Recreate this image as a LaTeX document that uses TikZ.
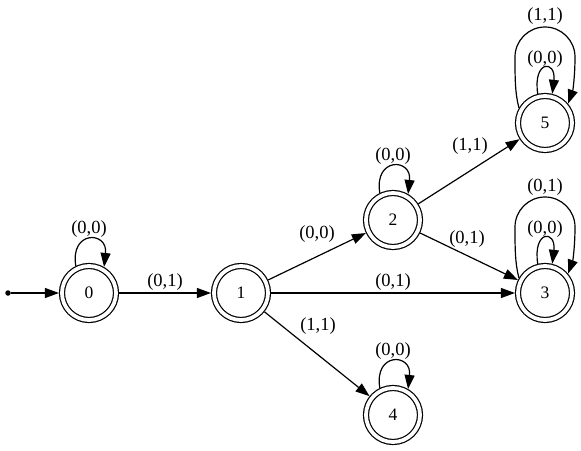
\documentclass[tikz,border=0pt]{standalone}
\usepackage{fontspec}
\setmainfont{Liberation Serif}
\usetikzlibrary{arrows.meta,calc}
\begin{document}
\begin{tikzpicture}[x=1pt,y=-1pt,
  state/.style={circle, draw, line width=1.2pt, double, double distance=3.8pt,
    minimum size=54pt, inner sep=0pt, outer sep=3.1pt,
    font=\fontsize{17.5}{17.5}\selectfont},
  lbl/.style={inner sep=0pt, font=\fontsize{18.5}{18.5}\selectfont},
  edge/.style={line width=1.2pt, -{Triangle[length=14pt,width=10pt]}},
  startdot/.style={circle, fill, inner sep=0pt, minimum size=5.5pt}
]
\useasboundingbox (0,0) rectangle (581,450);

% states
\node[startdot] (s) at (8,293) {};
\node[state] (n0) at (89,293) {0};
\node[state] (n1) at (241,293) {1};
\node[state] (n2) at (393,220) {2};
\node[state] (n3) at (545,293) {3};
\node[state] (n4) at (393,415) {4};
\node[state] (n5) at (545,123) {5};

% straight edges
\draw[edge] (s) -- (n0);
\draw[edge] (n0) -- (n1);
\draw[edge] (n1) -- (n2);
\draw[edge] (n1) -- (n3);
\draw[edge] (n1) -- (n4);
\draw[edge] (n2) -- (n5);
\draw[edge] (n2) -- (n3);

% simple self loops
\draw[edge] (n0.116) .. controls +(-6,-36) and +(4,-36) .. (n0.60);
\draw[edge] (n2.116) .. controls +(-6,-36) and +(4,-36) .. (n2.60);
\draw[edge] (n4.116) .. controls +(-6,-36) and +(4,-36) .. (n4.60);
\draw[edge] (n5.104) .. controls +(-5,-34) and +(4,-34) .. (n5.76);
\draw[edge] (n3.104) .. controls +(-5,-34) and +(4,-34) .. (n3.76);

% outer self loops
\draw[edge] (n5.150) .. controls ($(n5)+(-30,-30)$) and ($(n5)+(-30,-45)$) .. ($(n5)+(-30,-66)$)
  .. controls ($(n5)+(-30,-82.5)$) and ($(n5)+(-16.5,-96)$) .. ($(n5)+(0,-96)$)
  .. controls ($(n5)+(16.5,-96)$) and ($(n5)+(30,-82.5)$) .. ($(n5)+(30,-66)$)
  .. controls ($(n5)+(30,-48)$) and ($(n5)+(28,-33)$) .. (n5.40);
\draw[edge] (n3.150) .. controls ($(n3)+(-30,-30)$) and ($(n3)+(-30,-45)$) .. ($(n3)+(-30,-66)$)
  .. controls ($(n3)+(-30,-82.5)$) and ($(n3)+(-16.5,-96)$) .. ($(n3)+(0,-96)$)
  .. controls ($(n3)+(16.5,-96)$) and ($(n3)+(30,-82.5)$) .. ($(n3)+(30,-66)$)
  .. controls ($(n3)+(30,-48)$) and ($(n3)+(28,-33)$) .. (n3.40);

% edge labels
\node[lbl] (l01) at (165,282) {(0,1)};
\node[lbl] (l12) at (317,234) {(0,0)};
\node[lbl] (l13) at (393,282) {(0,1)};
\node[lbl] (l14) at (318,326) {(1,1)};
\node[lbl] (l25) at (470,146) {(1,1)};
\node[lbl] (l23) at (467,239) {(0,1)};
\node[lbl] (l00) at (89,229) {(0,0)};
\node[lbl] (l22) at (393,156) {(0,0)};
\node[lbl] (l44) at (393,351) {(0,0)};
\node[lbl] (l55i) at (545,59) {(0,0)};
\node[lbl] (l55o) at (545,16) {(1,1)};
\node[lbl] (l33i) at (545,229) {(0,0)};
\node[lbl] (l33o) at (545,187) {(0,1)};
\end{tikzpicture}
\end{document}
